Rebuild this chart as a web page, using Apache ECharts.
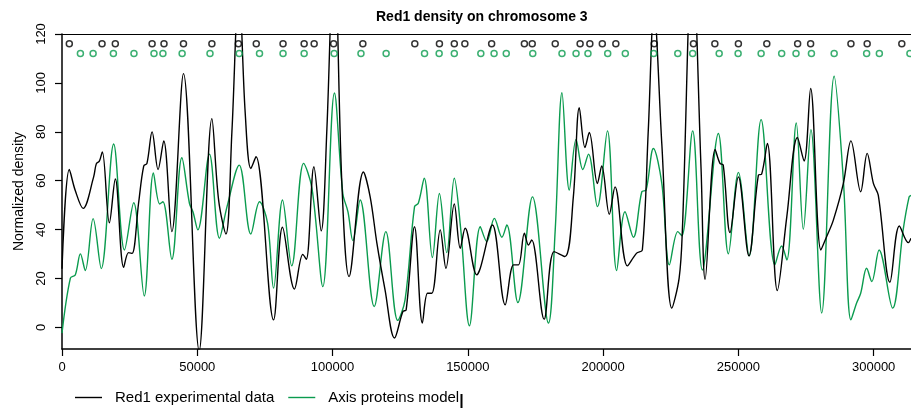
<!DOCTYPE html>
<html>
<head>
<meta charset="utf-8">
<script src="https://cdn.jsdelivr.net/npm/echarts@6/dist/echarts.min.js"></script>
<style>html,body{margin:0;padding:0;background:#fff}#c{width:911px;height:408px}</style>
</head>
<body>
<div id="c"></div>
<script>
const xTicks = [0, 50000, 100000, 150000, 200000, 250000, 300000];
const yTicks = [0, 20, 40, 60, 80, 100, 120];

const red1Pos = [0,2700,4900,7800,11700,12700,13800,14900,17500,19700,22800,24600,25900,28300,30200,31400,33300,35500,37600,40600,44900,50700,55400,57900,60600,62800,65400,67700,69800,71700,78200,81500,85900,89000,90300,93100,95800,97900,100600,103400,106100,111400,113900,116400,119400,122900,126000,127200,130300,133200,135100,136700,139800,141900,145000,147200,149000,153300,154600,159100,163800,166900,168700,170900,172400,173600,178200,181900,185900,189000,191200,193300,194900,197900,199500,202300,204400,209000,212400,214500,216700,218800,221700,225400,228100,229300,233000,236200,237700,241400,243200,244400,246900,250000,253900,257400,258600,260700,264400,267900,271800,274300,276700,280500,282600,285100,288800,291600,295200,297600,299900,301700,306000,309500,312800,313800];
const red1Val = [24,64.6,56,48.7,61.6,67,68,71.8,42.8,60.7,24.6,30.6,30.3,50.8,66,67.1,80,64.6,76.3,39.2,103.8,-9.5,85.4,52,38.2,80,140,88,65,69.8,3.1,41,15.7,29.9,27.9,65.7,39.5,81,160,60,20.8,63.6,53.4,34.4,15.4,-4.3,6.5,7.2,41.2,1.8,14,14,39.9,24.2,50.5,32.4,40.6,21.5,24.2,41.9,9.3,25.6,25.6,38.5,33.7,35.8,3.4,31,29,53.4,89.9,73.6,79.7,58.9,66,46.3,57.5,25.2,30.4,31.7,80.7,130,75,7.9,20.2,39.9,155,65,19.7,72.8,67.1,66.4,38.8,61.6,29.3,62.3,62.7,75.2,15.1,45.3,77.7,68.1,97.7,31.7,37.1,43.9,58.9,76.3,55.5,71.2,58.9,54.1,18.5,41.5,34.7,36.5];

const axisPos = [0,3100,4900,6800,8600,11500,14500,19100,23100,26500,30400,33800,36100,37300,40600,44300,47100,48400,50200,54500,58200,61000,65500,69800,73000,76000,78200,81500,84900,89300,92400,96400,100700,103800,105700,107500,110200,115400,119700,124100,126800,130300,131700,133900,136900,139500,142200,145000,147400,150600,154600,157000,159800,162600,164400,168500,173900,179800,182300,184800,187500,190000,192500,194600,197900,201600,205000,208100,211200,214300,215900,218600,221700,224500,227600,229100,233100,236700,242600,246300,250000,254000,258400,263500,266000,267900,271400,274000,276800,280800,285400,288800,291600,293700,295200,297400,299300,302000,307000,310900,313100,313800];
const axisVal = [-2.3,20.2,21.5,30.1,23.3,44.5,24.1,75,31.7,51,12.9,63.2,50.5,51.4,27.9,69.4,50.8,47.3,39.9,70.9,36.5,49.4,66.4,38.2,51.4,42.6,16.1,52.1,25.2,67.1,56.9,16.7,95.9,54.8,47.3,35.5,52.1,8.6,39.2,2.9,11.3,49.4,50.8,61,28.6,54.8,30.6,61,39.9,0.7,41.2,35.1,44.6,36.9,41.9,10.2,53.4,1.8,39.9,96,56.2,76.9,64.6,70.9,49.4,80.4,23.3,47.3,36.9,55.5,56.2,73.2,58.9,25.6,39.2,37.5,80.4,23.5,79.3,30.1,63.4,29.3,85,25.6,33.3,27.6,83.6,40.1,80.9,5.9,102.7,60.3,3.1,10,14,24.2,18.8,31.7,7.9,39.9,53.4,54];

const red1Peaks = [2700,14800,19700,33300,37700,44900,55400,65200,71800,81700,89500,93200,100400,111200,130400,139500,145000,148900,158800,170900,173800,182300,191500,195100,199700,204700,218900,233400,241300,250000,260500,271900,276700,291600,297600,310400];
const axisPeaks = [6800,11500,19000,26600,34000,37300,44400,54700,65500,73000,81700,89500,100600,110500,119800,134000,139400,145000,154800,159700,164200,174000,184800,190000,194400,201700,208200,218700,227600,233100,242900,249900,258400,266000,271300,277000,285400,297400,302100,313400];
const red1PeakLevel = 116;
const axisPeakLevel = 112;

const GREEN = '#0A9B4E';
const FONT = 'Liberation Sans, Arial, Helvetica, sans-serif';
const LINE_ICON = 'path://M0,0 H27 V1.4 H0 Z';

function zip(a, b) { return a.map((v, i) => [v, b[i]]); }

const chart = echarts.init(document.getElementById('c'), null, {renderer: 'canvas'});
chart.setOption({
  animation: false,
  backgroundColor: '#fff',
  textStyle: {fontFamily: FONT},
  title: {
    text: 'Red1 density on chromosome 3',
    left: 376, top: 10, padding: 0,
    textStyle: {fontFamily: FONT, fontSize: 14, fontWeight: 'bold', color: '#000'}
  },
  grid: {left: 62, top: 34, right: 0, bottom: 59, containLabel: false},
  legend: {
    data: [
      {name: 'Red1 experimental data', icon: LINE_ICON, itemStyle: {color: '#000'}},
      {name: 'Axis proteins model', icon: LINE_ICON, itemStyle: {color: GREEN}}
    ],
    left: 75, top: 390, itemWidth: 27, itemHeight: 1.4, itemGap: 14,
    padding: 0,
    textStyle: {fontFamily: FONT, fontSize: 15, color: '#000', padding: [0, 0, 0, 8]}
  },
  xAxis: [{
    type: 'value', min: 0, max: 313800, position: 'bottom',
    axisLine: {onZero: false, lineStyle: {color: '#000', width: 1.5}},
    axisTick: {customValues: xTicks, length: 7, lineStyle: {color: '#000', width: 1.2}},
    axisLabel: {customValues: xTicks, margin: 12, color: '#000', fontSize: 13, fontFamily: FONT,
      formatter: v => String(v)},
    splitLine: {show: false}
  }, {
    type: 'value', min: 0, max: 313800, position: 'top',
    axisLine: {onZero: false, lineStyle: {color: '#000', width: 1.2}},
    axisTick: {show: false}, axisLabel: {show: false}, splitLine: {show: false}
  }],
  yAxis: {
    type: 'value', min: -8.8, max: 120,
    name: 'Normalized density', nameLocation: 'middle', nameGap: 36,
    nameTextStyle: {fontFamily: FONT, fontSize: 14, color: '#000'},
    axisLine: {onZero: false, lineStyle: {color: '#000', width: 1.5}},
    axisTick: {customValues: yTicks, length: 7, lineStyle: {color: '#000', width: 1.2}},
    axisLabel: {customValues: yTicks, rotate: 90, margin: 14, color: '#000', fontSize: 13, fontFamily: FONT,
      formatter: v => String(v)},
    splitLine: {show: false}
  },
  series: [{
    name: 'Red1 experimental data', type: 'line', data: zip(red1Pos, red1Val),
    smooth: 0.35, symbol: 'none', clip: true,
    lineStyle: {color: '#000', width: 1.4}, itemStyle: {color: '#000'}, z: 3
  }, {
    name: 'Axis proteins model', type: 'line', data: zip(axisPos, axisVal),
    smooth: 0.35, symbol: 'none', clip: true,
    lineStyle: {color: GREEN, width: 1.4}, itemStyle: {color: GREEN}, z: 2
  }, {
    name: 'red1Peaks', type: 'scatter', data: red1Peaks.map(x => [x, red1PeakLevel]),
    symbol: 'circle', symbolSize: 6,
    itemStyle: {color: 'rgba(0,0,0,0)', borderColor: '#000', borderWidth: 1.5}, z: 4
  }, {
    name: 'axisPeaks', type: 'scatter', data: axisPeaks.map(x => [x, axisPeakLevel]),
    symbol: 'circle', symbolSize: 6,
    itemStyle: {color: 'rgba(0,0,0,0)', borderColor: GREEN, borderWidth: 1.5}, z: 4
  }],
  graphic: [{
    type: 'line', shape: {x1: 461.5, y1: 394, x2: 461.5, y2: 408},
    style: {stroke: '#000', lineWidth: 2}
  }]
});
</script>
</body>
</html>
